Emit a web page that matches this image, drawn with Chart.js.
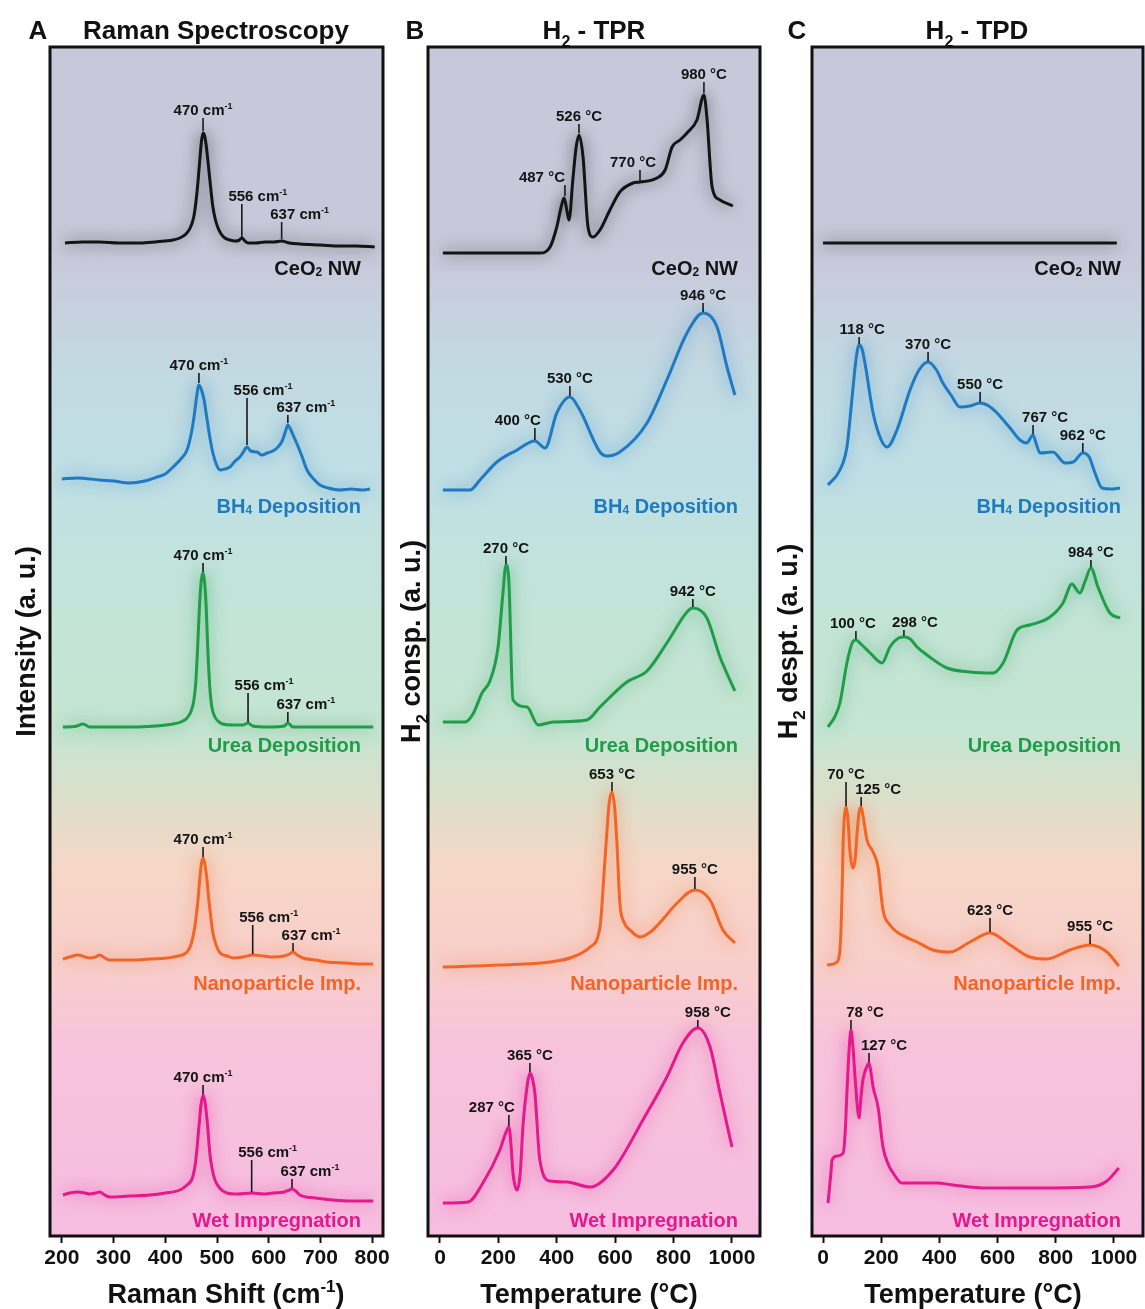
<!DOCTYPE html>
<html>
<head>
<meta charset="utf-8">
<script src="https://cdn.jsdelivr.net/npm/chart.js@4.4.0/dist/chart.umd.min.js"></script>
<style>
  html, body { margin: 0; padding: 0; background: #fff; }
  #wrap { position: relative; width: 1145px; height: 1309px; }
  canvas { position: absolute; left: 0; top: 0; }
</style>
</head>
<body>
<div id="wrap">
  <canvas id="raman" width="1145" height="1309"></canvas>
  <canvas id="tpr" width="1145" height="1309"></canvas>
  <canvas id="tpd" width="1145" height="1309"></canvas>
</div>
<script>
// sample rows, top to bottom
const sampleNames = ['CeO₂ NW', 'BH₄ Deposition', 'Urea Deposition', 'Nanoparticle Imp.', 'Wet Impregnation'];
const sampleColors = ['#141414', '#1f7bc1', '#1f9d48', '#f26526', '#e5188c'];
const labelRows = [96.8, 73.0, 49.1, 25.3, 1.6];

// --- A: Raman (x = cm-1, y = a.u. above each baseline)
const ramanOffsets = [99.3, 75.7, 50.9, 27.7, 4.1];
const ramanXCeO2 = [206, 240, 273, 310, 351, 380, 399, 415, 428, 440, 448, 455, 459, 463, 467, 470, 473, 476, 479, 482, 484, 488, 492, 497, 502, 508, 515, 525, 535, 542, 548, 554, 560, 575, 593, 610, 625, 640, 660, 700, 738, 770, 805];
const ramanYCeO2 = [0, 0.1, 0.1, 0, 0, 0.1, 0.2, 0.3, 0.5, 0.9, 1.5, 2.6, 4.0, 6.0, 8.5, 10.2, 11.0, 10.7, 9.8, 8.4, 7.4, 5.4, 3.6, 2.3, 1.5, 0.9, 0.5, 0.3, 0.2, 0.25, 0.5, 0.2, 0.0, 0.0, 0.1, 0.1, 0.2, 0.0, -0.1, -0.2, -0.3, -0.3, -0.4];
const ramanXBH4 = [200, 230, 273, 300, 331, 360, 384, 400, 415, 430, 442, 450, 455, 460, 465, 470, 475, 480, 486, 492, 500, 506, 515, 525, 535, 544, 551, 558, 565, 577, 587, 597, 608, 618, 626, 632, 637, 642, 648, 654, 664, 674, 687, 699, 715, 738, 760, 780, 796];
const ramanYBH4 = [0, 0.1, -0.1, -0.2, -0.4, -0.2, 0.2, 0.5, 1.2, 2.0, 2.9, 4.5, 6.0, 8.0, 9.4, 8.9, 7.9, 6.2, 4.2, 2.6, 1.3, 0.9, 1.0, 1.2, 1.8, 2.2, 2.7, 3.2, 2.8, 2.7, 2.4, 2.6, 2.8, 3.2, 3.8, 4.7, 5.4, 5.0, 4.3, 3.6, 2.3, 0.9, 0.0, -0.6, -0.9, -1.1, -1.0, -1.1, -1.0];
const ramanXUrea = [202, 225, 241, 254, 300, 337, 380, 415, 430, 442, 450, 455, 459, 463, 466, 470, 473, 476, 479, 482, 486, 490, 496, 504, 511, 530, 550, 560, 569, 600, 630, 637, 647, 700, 750, 802];
const ramanYUrea = [0, 0.05, 0.3, 0, 0, 0, 0.1, 0.3, 0.5, 0.9, 1.6, 2.6, 4.5, 8.5, 12.0, 14.8, 15.4, 14.5, 12.0, 8.0, 4.0, 2.0, 1.0, 0.5, 0.3, 0.2, 0.2, 0.4, 0.1, 0.0, 0.1, 0.4, 0.0, 0, 0, 0];
const ramanXNano = [202, 215, 231, 245, 254, 265, 273, 283, 293, 320, 337, 370, 403, 425, 442, 450, 457, 463, 467, 470, 473, 476, 480, 484, 488, 492, 499, 506, 520, 531, 550, 569, 590, 608, 630, 640, 647, 655, 666, 690, 712, 750, 780, 802];
const ramanYNano = [0, 0.2, 0.4, 0.2, 0.1, 0.2, 0.4, 0.1, -0.1, -0.1, -0.1, 0.0, 0.1, 0.3, 0.7, 1.5, 3.2, 5.8, 8.2, 9.6, 10.1, 9.6, 8.2, 6.0, 4.2, 2.6, 1.3, 0.6, 0.3, 0.1, 0.2, 0.4, 0.3, 0.2, 0.3, 0.5, 0.7, 0.4, 0.1, -0.1, -0.3, -0.4, -0.5, -0.5];
const ramanXWet = [202, 215, 231, 245, 254, 265, 273, 283, 293, 330, 370, 400, 428, 442, 453, 459, 465, 469, 473, 477, 482, 486, 491, 496, 505, 519, 540, 567, 590, 608, 630, 640, 645, 652, 660, 690, 724, 760, 802];
const ramanYWet = [0, 0.2, 0.3, 0.2, 0.1, 0.2, 0.3, 0.0, -0.2, -0.1, 0.0, 0.2, 0.5, 1.0, 1.8, 3.5, 6.8, 9.0, 10.0, 9.2, 6.8, 4.2, 2.5, 1.5, 0.7, 0.2, 0.1, 0.2, 0.1, 0.2, 0.3, 0.5, 0.6, 0.4, 0.0, -0.3, -0.5, -0.6, -0.6];
// [x, line bottom, line top, text, label shift px]
const ramanPeaks = [
  [[473, 11.2, 12.5, '470 cm⁻¹', 0], [548, 0.6, 3.9, '556 cm⁻¹', 16], [625, 0.4, 2.1, '637 cm⁻¹', 18]],
  [[465, 9.6, 10.6, '470 cm⁻¹', 0], [558, 3.4, 8.1, '556 cm⁻¹', 16], [637, 5.6, 6.4, '637 cm⁻¹', 18]],
  [[473, 15.5, 16.4, '470 cm⁻¹', 0], [560, 0.5, 3.4, '556 cm⁻¹', 16], [637, 0.5, 1.5, '637 cm⁻¹', 18]],
  [[473, 10.2, 11.2, '470 cm⁻¹', 0], [569, 0.5, 3.4, '556 cm⁻¹', 16], [647, 0.8, 1.6, '637 cm⁻¹', 18]],
  [[473, 10.1, 11.0, '470 cm⁻¹', 0], [567, 0.3, 3.5, '556 cm⁻¹', 16], [645, 0.7, 1.6, '637 cm⁻¹', 18]],
];

// --- B: H2-TPR (x = °C)
const tprOffsets = [98.3, 74.6, 51.4, 26.9, 3.3];
const tprXCeO2 = [10, 200, 342, 377, 400, 415, 425, 435, 442, 455, 466, 476, 490, 507, 524, 548, 582, 616, 661, 685, 743, 771, 795, 822, 846, 880, 904, 914, 932, 959, 1003];
const tprYCeO2 = [0, 0, 0, 0.6, 2.6, 4.6, 5.5, 4.2, 3.3, 7.3, 10.5, 11.8, 9.6, 2.6, 1.6, 2.3, 4.3, 6.1, 7.0, 7.1, 7.5, 8.3, 10.6, 11.3, 12.0, 13.3, 15.8, 13.6, 6.6, 5.3, 4.7];
const tprXBH4 = [10, 103, 137, 195, 264, 325, 360, 400, 445, 479, 548, 572, 616, 709, 777, 846, 901, 949, 983, 1010];
const tprYBH4 = [0, 0, 1.0, 2.8, 4.0, 4.9, 4.2, 7.7, 9.3, 8.0, 3.8, 3.4, 3.8, 6.7, 11.0, 15.7, 17.7, 16.3, 12.3, 9.5];
const tprXUrea = [10, 86, 113, 144, 171, 199, 216, 226, 236, 250, 298, 336, 387, 503, 548, 640, 709, 777, 846, 866, 914, 959, 1010];
const tprYUrea = [0, 0, 0.8, 2.9, 4.1, 7.5, 13.0, 15.7, 14.0, 2.2, 1.5, -0.3, 0.0, 0.2, 1.5, 4.0, 5.1, 7.9, 11.0, 11.4, 10.4, 6.5, 3.1];
const tprXNano = [10, 205, 377, 455, 514, 548, 565, 580, 589, 598, 606, 616, 630, 651, 685, 729, 770, 812, 873, 925, 969, 1010];
const tprYNano = [0, 0.2, 0.5, 1.0, 2.0, 4.0, 10.7, 16.5, 17.5, 16.0, 12.4, 6.4, 4.5, 3.7, 3.0, 3.7, 5.0, 6.4, 7.7, 6.7, 3.7, 2.4];
const tprXWet = [10, 96, 147, 205, 225, 236, 244, 250, 264, 275, 284, 300, 308, 316, 325, 342, 377, 435, 514, 593, 695, 777, 832, 883, 925, 959, 1000];
const tprYWet = [0, 0.1, 2.0, 5.3, 7.0, 7.6, 5.5, 3.0, 1.3, 3.0, 7.6, 12.0, 13.0, 12.5, 11.0, 4.3, 2.2, 2.1, 1.6, 3.3, 8.3, 12.6, 16.0, 17.5, 15.6, 11.0, 5.6];
const tprPeaks = [
  [[428, 5.7, 6.8, '487 °C', -23], [476, 12.0, 12.9, '526 °C', 0], [685, 7.2, 8.3, '770 °C', -7], [904, 16.0, 17.1, '980 °C', 0]],
  [[325, 5.0, 6.2, '400 °C', -17], [445, 9.4, 10.4, '530 °C', 0], [901, 17.8, 18.7, '946 °C', 0]],
  [[226, 15.8, 16.6, '270 °C', 0], [866, 11.5, 12.3, '942 °C', 0]],
  [[589, 17.6, 18.5, '653 °C', 0], [873, 7.8, 9.0, '955 °C', 0]],
  [[236, 7.7, 8.8, '287 °C', -17], [308, 13.1, 14.0, '365 °C', 0], [883, 17.6, 18.3, '958 °C', 10]],
];

// --- C: H2-TPD (x = °C)
const tpdOffsets = [99.3, 75.1, 50.9, 27.1, 3.3];
const tpdXCeO2 = [0, 250, 500, 750, 1010];
const tpdYCeO2 = [0, 0, 0, 0, 0];
const tpdXBH4 = [17, 58, 82, 100, 113, 124, 134, 144, 172, 200, 220, 254, 299, 330, 361, 390, 412, 440, 471, 505, 540, 570, 598, 640, 677, 700, 722, 732, 746, 790, 832, 860, 893, 915, 935, 959, 990, 1021];
const tpdYBH4 = [0, 1.5, 3.8, 8.8, 12.5, 14.0, 13.6, 12.2, 7.2, 4.5, 3.8, 5.5, 9.5, 11.5, 12.3, 11.5, 10.2, 9.0, 7.8, 7.9, 8.2, 7.9, 7.2, 5.8, 4.5, 4.2, 5.0, 4.2, 3.2, 3.3, 2.2, 2.3, 3.2, 2.8, 1.2, -0.3, -0.4, -0.3];
const tpdXUrea = [17, 40, 58, 82, 100, 113, 130, 162, 203, 230, 260, 278, 300, 323, 357, 426, 505, 584, 619, 667, 711, 780, 825, 856, 870, 883, 900, 921, 945, 986, 1021];
const tpdYUrea = [0, 1.0, 2.4, 6.4, 8.4, 8.7, 8.3, 7.4, 6.4, 8.0, 8.9, 9.0, 8.8, 8.0, 7.2, 5.9, 5.5, 5.4, 6.4, 9.7, 10.2, 11.0, 12.4, 14.3, 13.8, 13.4, 14.5, 15.9, 14.0, 11.4, 10.9];
const tpdXNano = [14, 48, 58, 62, 66, 69, 74, 79, 85, 93, 103, 110, 117, 124, 131, 138, 151, 172, 189, 206, 230, 254, 323, 378, 436, 505, 574, 643, 711, 770, 849, 918, 976, 1017];
const tpdYNano = [0, 0.3, 1.5, 3.8, 8.0, 12.2, 15.0, 15.8, 14.8, 11.2, 9.7, 10.5, 13.2, 15.3, 15.8, 14.8, 12.5, 11.3, 9.8, 5.5, 4.0, 3.3, 2.3, 1.5, 1.3, 2.3, 3.2, 2.0, 0.8, 0.6, 1.5, 2.0, 1.3, -0.1];
const tpdXWet = [17, 27, 31, 48, 69, 76, 82, 90, 96, 103, 110, 124, 130, 137, 150, 158, 165, 172, 189, 206, 225, 241, 271, 392, 447, 564, 735, 918, 976, 1017];
const tpdYWet = [0, 3.0, 4.3, 4.7, 5.0, 7.0, 11.0, 15.5, 17.3, 15.5, 12.6, 8.5, 10.5, 12.3, 13.6, 14.0, 13.0, 11.6, 9.6, 5.6, 3.8, 3.0, 2.0, 2.0, 1.8, 1.5, 1.5, 1.6, 2.2, 3.5];
const tpdPeaks = [
  [],
  [[124, 14.1, 14.8, '118 °C', 3], [361, 12.4, 13.3, '370 °C', 0], [540, 8.3, 9.3, '550 °C', 0], [722, 5.1, 6.0, '767 °C', 12], [893, 3.3, 4.2, '962 °C', 0]],
  [[113, 8.8, 9.6, '100 °C', -3], [278, 9.1, 9.7, '298 °C', 11], [921, 16.0, 16.7, '984 °C', 0]],
  [[79, 15.9, 18.3, '70 °C', 0], [131, 15.9, 16.8, '125 °C', 17], [574, 3.3, 4.7, '623 °C', 0], [918, 2.1, 3.1, '955 °C', 0]],
  [[96, 17.4, 18.3, '78 °C', 14], [158, 14.1, 15.0, '127 °C', 15]],
];

const FONT = '"Liberation Sans", Arial, sans-serif';
const Y_MAX = 118.9;

const bgStops = [
  [0, '#c9c8da'], [0.17, '#c9c8da'], [0.27, '#c2d9e2'], [0.36, '#c0dfe5'],
  [0.48, '#c3e4d7'], [0.58, '#c6e5d2'], [0.63, '#dcdfca'], [0.69, '#f6d6c6'],
  [0.77, '#f8cfca'], [0.84, '#f7c3dc'], [1, '#f6bde0'],
];

const SUB = { '₂': '2', '₄': '4' };
const SUP = { '⁻': '-', '¹': '1' };

const splitRuns = (text) => {
  const runs = [];
  for (const ch of text) {
    const kind = SUB[ch] ? 'sub' : (SUP[ch] ? 'sup' : 'normal');
    const t = SUB[ch] || SUP[ch] || ch;
    const last = runs[runs.length - 1];
    if (last && last.kind === kind) {
      last.t += t;
    } else {
      runs.push({ t, kind });
    }
  }
  return runs;
};

// text with small sub/superscripts, y is the baseline
const drawRich = (ctx, text, x, y, size, align, color, subDrop = 0.08) => {
  const runs = splitRuns(text);
  const fontFor = (kind) => `bold ${kind === 'normal' ? size : Math.round(size * 0.62)}px ${FONT}`;
  let width = 0;
  runs.forEach((r) => {
    ctx.font = fontFor(r.kind);
    r.w = ctx.measureText(r.t).width;
    width += r.w;
  });
  let cx = align === 'right' ? x - width : (align === 'center' ? x - width / 2 : x);
  ctx.fillStyle = color;
  ctx.textAlign = 'left';
  ctx.textBaseline = 'alphabetic';
  runs.forEach((r) => {
    ctx.font = fontFor(r.kind);
    const dy = r.kind === 'sub' ? size * subDrop : (r.kind === 'sup' ? -size * 0.4 : 0);
    ctx.fillText(r.t, cx, y + dy);
    cx += r.w;
  });
};

const makePanelPlugin = (panel) => ({
  id: 'panel',
  beforeDraw(chart) {
    const { ctx, chartArea: a } = chart;
    const grad = ctx.createLinearGradient(0, a.top, 0, a.bottom);
    bgStops.forEach(([f, c]) => grad.addColorStop(f, c));
    ctx.save();
    ctx.fillStyle = grad;
    ctx.fillRect(a.left, a.top, a.right - a.left, a.bottom - a.top);
    ctx.restore();
  },
  beforeDatasetDraw(chart, args) {
    const ctx = chart.ctx;
    ctx.save();
    ctx.shadowColor = args.index === 0 ? 'rgba(0,0,0,0.7)' : sampleColors[args.index] + 'bb';
    ctx.shadowBlur = 16;
  },
  afterDatasetDraw(chart) {
    chart.ctx.restore();
  },
  afterDatasetsDraw(chart) {
    const { ctx, chartArea: a, scales: { x, y } } = chart;
    ctx.save();
    panel.peaks.forEach((list, i) => {
      list.forEach(([px, bottom, top, text, dx]) => {
        const xp = x.getPixelForValue(px);
        const yb = y.getPixelForValue(panel.offsets[i] + bottom);
        const yt = y.getPixelForValue(panel.offsets[i] + top);
        ctx.strokeStyle = '#1a1a1a';
        ctx.lineWidth = 1.6;
        ctx.beginPath();
        ctx.moveTo(xp, yb);
        ctx.lineTo(xp, yt);
        ctx.stroke();
        drawRich(ctx, text, xp + dx, yt - 3, 15, 'center', '#141414');
      });
    });
    sampleNames.forEach((name, i) => {
      const yc = y.getPixelForValue(labelRows[i]);
      drawRich(ctx, name, a.right - 22, yc + 7, 20, 'right', sampleColors[i], 0.04);
    });
    ctx.restore();
  },
  afterDraw(chart) {
    const { ctx, chartArea: a } = chart;
    ctx.save();
    ctx.strokeStyle = '#111';
    ctx.lineWidth = 3;
    ctx.strokeRect(a.left, a.top, a.right - a.left, a.bottom - a.top);

    drawRich(ctx, panel.letter, panel.letterX, 39, 26, 'center', '#111');
    drawRich(ctx, panel.title, panel.titleX, 39, 26, 'center', '#111', 0.3);
    drawRich(ctx, panel.xTitle, panel.xTitleX, 1303, 27, 'center', '#111');

    ctx.translate(panel.yTitleX, (a.top + a.bottom) / 2);
    ctx.rotate(-Math.PI / 2);
    drawRich(ctx, panel.yTitle, 0, 10, 27, 'center', '#111', 0.3);
    ctx.restore();
  },
});

const renderPanel = (panel) => {
  const datasets = panel.curves.map(([xs, ys], i) => ({
    data: xs.map((xv, j) => ({ x: xv, y: panel.offsets[i] + ys[j] })),
    borderColor: sampleColors[i],
    borderWidth: 3,
    pointRadius: 0,
    cubicInterpolationMode: 'monotone',
    fill: false,
  }));

  new Chart(document.getElementById(panel.id), {
    type: 'line',
    plugins: [makePanelPlugin(panel)],
    data: { datasets },
    options: {
      responsive: false,
      animation: false,
      events: [],
      layout: { padding: { left: panel.left, right: 1145 - panel.right, top: 47, bottom: 0 } },
      plugins: { legend: { display: false }, tooltip: { enabled: false } },
      scales: {
        x: {
          type: 'linear',
          min: panel.xMin,
          max: panel.xMax,
          afterFit: (scale) => { scale.height = 73; },
          afterBuildTicks: (scale) => {
            scale.ticks = scale.ticks.filter((t) => t.value % panel.step === 0);
          },
          ticks: {
            stepSize: panel.step,
            includeBounds: false,
            autoSkip: false,
            maxRotation: 0,
            padding: 3,
            color: '#111',
            font: { family: FONT, size: 21, weight: 'bold' },
            callback: (value) => String(value),
          },
          grid: {
            drawOnChartArea: false,
            drawTicks: true,
            tickLength: 7,
            tickWidth: 2,
            tickColor: '#111',
            color: '#111',
          },
          border: { display: false },
        },
        y: { type: 'linear', display: false, min: 0, max: Y_MAX },
      },
    },
  });
};

renderPanel({
  id: 'raman', left: 50, right: 383, xMin: 177, xMax: 821, step: 100,
  curves: [[ramanXCeO2, ramanYCeO2], [ramanXBH4, ramanYBH4], [ramanXUrea, ramanYUrea], [ramanXNano, ramanYNano], [ramanXWet, ramanYWet]],
  offsets: ramanOffsets, peaks: ramanPeaks,
  letter: 'A', letterX: 38, title: 'Raman Spectroscopy', titleX: 216,
  xTitle: 'Raman Shift (cm⁻¹)', xTitleX: 226, yTitle: 'Intensity (a. u.)', yTitleX: 25,
});

renderPanel({
  id: 'tpr', left: 428, right: 760, xMin: -41, xMax: 1096, step: 200,
  curves: [[tprXCeO2, tprYCeO2], [tprXBH4, tprYBH4], [tprXUrea, tprYUrea], [tprXNano, tprYNano], [tprXWet, tprYWet]],
  offsets: tprOffsets, peaks: tprPeaks,
  letter: 'B', letterX: 415, title: 'H₂ - TPR', titleX: 594,
  xTitle: 'Temperature (°C)', xTitleX: 589, yTitle: 'H₂ consp. (a. u.)', yTitleX: 410,
});

renderPanel({
  id: 'tpd', left: 812, right: 1143, xMin: -38, xMax: 1100, step: 200,
  curves: [[tpdXCeO2, tpdYCeO2], [tpdXBH4, tpdYBH4], [tpdXUrea, tpdYUrea], [tpdXNano, tpdYNano], [tpdXWet, tpdYWet]],
  offsets: tpdOffsets, peaks: tpdPeaks,
  letter: 'C', letterX: 797, title: 'H₂ - TPD', titleX: 977,
  xTitle: 'Temperature (°C)', xTitleX: 973, yTitle: 'H₂ despt. (a. u.)', yTitleX: 787,
});
</script>
</body>
</html>
